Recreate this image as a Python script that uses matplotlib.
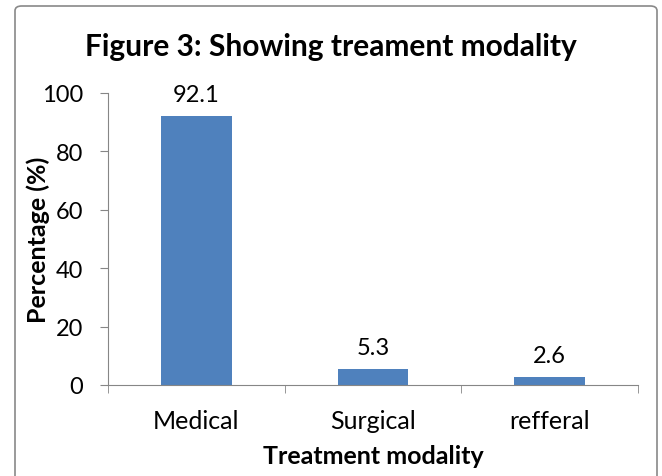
import matplotlib
matplotlib.use('Agg')
import matplotlib.pyplot as plt
from matplotlib.patches import FancyBboxPatch

categorias = ['Medical', 'Surgical', 'refferal']
porcentajes = [92.1, 5.3, 2.6]
ticks_y = [0, 20, 40, 60, 80, 100]

plt.rcParams['font.family'] = ['Lato', 'DejaVu Sans']

fig = plt.figure(figsize=(6.62, 4.77), dpi=100)
ax = fig.add_axes([0.163, 0.191, 0.801, 0.612])

x = range(len(categorias))
barras = ax.bar(x, porcentajes, width=0.4, color='#4f81bd')
for b, v in zip(barras, porcentajes):
    ax.annotate(f'{v}', xy=(b.get_x() + b.get_width() / 2, v), xytext=(0, 8),
                textcoords='offset points', ha='center', va='bottom', fontsize=17)

ax.set_xlim(-0.5, len(categorias) - 0.5)
ax.set_ylim(0, 100)
ax.set_yticks(ticks_y)
ax.set_xticks(x)
ax.set_xticklabels(categorias)
ax.set_xticks([i - 0.5 for i in range(len(categorias) + 1)], minor=True)
ax.tick_params(axis='x', which='major', length=0, pad=17, labelsize=18)
ax.tick_params(axis='x', which='minor', length=6, color='#868686', direction='out')
ax.tick_params(axis='y', length=6, color='#868686', labelsize=17, pad=12)

for s in ['top', 'right']:
    ax.spines[s].set_visible(False)
for s in ['left', 'bottom']:
    ax.spines[s].set_color('#868686')

ax.set_xlabel('Treatment modality', fontsize=18, fontweight='bold', labelpad=9)
ax.set_ylabel('Percentage (%)', fontsize=18, fontweight='bold', labelpad=-6)
fig.text(0.5, 0.901, 'Figure 3: Showing treament modality', ha='center', va='center',
         fontsize=21.5, fontweight='bold')

borde = FancyBboxPatch((15 / 662, -0.05), 642 / 662, 1.0 - 7 / 477 + 0.05,
                       boxstyle='round,pad=0,rounding_size=0.01',
                       transform=fig.transFigure, fill=False, edgecolor='#898989', lw=1.2)
fig.patches.append(borde)

fig.savefig('out.png', dpi=100)
